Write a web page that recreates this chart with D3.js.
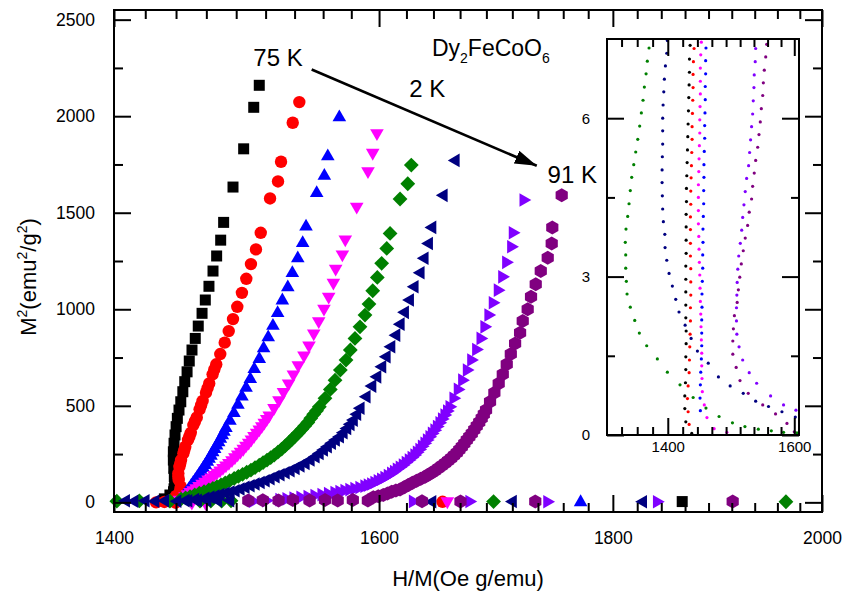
<!DOCTYPE html>
<html>
<head>
<meta charset="utf-8">
<script src="https://cdn.jsdelivr.net/npm/d3@7"></script>
<style>
  body { margin: 0; background: #fff; }
  svg text { font-family: "Liberation Sans", Arial, sans-serif; fill: #000; }
</style>
</head>
<body>
<svg id="chart" width="845" height="592"></svg>
<script>
// Tick labels
const xTicks = [1400, 1600, 1800, 2000];
const yTicks = [0, 500, 1000, 1500, 2000, 2500];
const insetXTicks = [1400, 1600];
const insetYTicks = [0, 3, 6];

// Main plot series: [H/M, M^2]
const sqBlack = [[1506.3,2160],[1502.1,2046],[1494.5,1831],[1486.5,1633],[1479.5,1450],[1477.3,1358],[1474.3,1276],[1471.6,1198],[1468.6,1119],[1465.9,1048],[1463.5,979],[1460.7,913],[1458.5,849],[1456.1,789],[1454.1,732],[1452.5,676],[1450.8,625],[1449.4,573],[1447.9,521],[1446.6,478],[1445.4,435],[1444.5,392],[1443.7,349],[1443.0,306],[1442.5,262],[1442.5,219],[1442.8,176],[1443.2,133],[1443.7,90],[1443.5,110],[1443.0,70],[1442.6,55],[1440,38],[1436,18],[1864,4]];
const circRed = [[1537.0,2073],[1531.9,1966],[1522.9,1764],[1520.6,1662],[1514.5,1574],[1507.4,1396],[1503.8,1310],[1500.0,1234],[1496.5,1158],[1493.2,1085],[1489.7,1013],[1486.5,949],[1483.3,887],[1480.3,827],[1477.0,768],[1474.0,715],[1472.6,689],[1471.3,663],[1468.8,616],[1467.6,592],[1466.4,568],[1463.9,525],[1462.8,503],[1461.7,482],[1459.6,440],[1458.3,420],[1457.1,400],[1455.2,360],[1454.2,341],[1453.2,323],[1451.2,288],[1450.5,271],[1449.8,254],[1448.1,219],[1447.5,201],[1446.9,184],[1446.1,150],[1446.1,133],[1446.4,116],[1447.9,81],[1447.8,70],[1447.4,58],[1444.5,33],[1441,12],[1436,2],[1430,0],[1444,-2],[1652,3]];
const triBlue = [[1568.3,1997],[1559.2,1795],[1556.5,1695],[1550.5,1605],[1542.2,1432],[1539.6,1346],[1535.8,1267],[1531.6,1191],[1528.1,1117],[1523.9,1049],[1520.3,984],[1516.7,918],[1513.1,858],[1509.6,801],[1506.3,746],[1502.5,694],[1499.5,642],[1496.3,596],[1493.2,551],[1490.2,508],[1487.2,466],[1484.2,426],[1481.2,388],[1479.8,369],[1478.5,350],[1477.1,332],[1475.8,314],[1474.3,297],[1472.8,280],[1471.4,262],[1470.1,245],[1468.7,229],[1467.4,214],[1465.9,197],[1464.4,181],[1463.0,165],[1461.5,150],[1460.0,134],[1458.5,119],[1457.0,104],[1455.6,90],[1454.1,75],[1452.7,60],[1451.5,49],[1450.3,38],[1448,15],[1771,4]];
const triDownMagenta = [[1598.3,1909],[1594.9,1807],[1591.1,1712],[1582.1,1528],[1573.0,1358],[1570.7,1281],[1565.4,1207],[1563.6,1134],[1559.9,1062],[1556.2,1000],[1552.1,935],[1548.2,872],[1544.5,809],[1540.6,758],[1536.2,707],[1532.4,659],[1528.7,613],[1524.8,568],[1521.3,526],[1517.5,485],[1513.9,447],[1512.0,428],[1510.1,409],[1508.2,391],[1506.3,374],[1504.3,357],[1502.3,340],[1500.3,323],[1498.3,306],[1496.2,290],[1494.2,274],[1492.1,259],[1490.0,245],[1487.9,230],[1485.7,215],[1483.4,201],[1481.2,188],[1479.0,175],[1476.8,162],[1474.5,150],[1472.3,138],[1470.1,126],[1467.9,115],[1465.7,104],[1463.5,93],[1461.3,81],[1459.1,70],[1456.9,60],[1454.7,50],[1452.8,39],[1451.0,29],[1447,10],[1456,-5],[1466,-6],[1656,2]];
const diaGreen = [[1626.2,1747],[1623.3,1650],[1617.0,1571],[1608.9,1393],[1606.2,1315],[1602.1,1238],[1598.6,1165],[1594.9,1096],[1591.9,1027],[1588.7,970],[1584.7,909],[1580.7,849],[1577.0,789],[1573.6,737],[1569.1,685],[1564.9,633],[1561.2,585],[1557.0,539],[1552.6,495],[1550.4,475],[1548.2,456],[1545.9,435],[1543.6,414],[1541.2,396],[1538.9,378],[1536.4,360],[1533.9,343],[1531.3,326],[1528.8,309],[1526.1,292],[1523.4,276],[1520.5,260],[1517.7,245],[1515.0,232],[1512.2,219],[1509.2,206],[1506.3,193],[1503.1,180],[1500.0,167],[1496.8,156],[1493.7,145],[1490.5,134],[1487.4,124],[1484.0,112],[1480.7,101],[1477.6,91],[1474.5,81],[1471.5,72],[1468.5,64],[1465.0,55],[1461.5,47],[1458.1,38],[1454.7,29],[1451.4,23],[1448.1,17],[1402,6],[1418,8],[1440,6],[1462,6],[1470,7],[1478,6],[1485,8],[1695,4],[1964,3]];
const triLeftNavy = [[1662.4,1771],[1652.4,1590],[1643.0,1424],[1640.2,1341],[1636.6,1264],[1633.3,1189],[1628.4,1117],[1624.6,1048],[1620.5,984],[1617.0,923],[1613.5,866],[1609.4,806],[1605.6,754],[1602.1,702],[1598.1,650],[1594.1,602],[1589.5,547],[1584.7,487],[1582.0,456],[1579.3,426],[1576.7,404],[1574.1,383],[1571.2,361],[1568.3,340],[1565.1,323],[1562.0,306],[1558.8,288],[1555.7,271],[1552.4,253],[1549.2,236],[1545.3,219],[1541.4,202],[1537.5,189],[1533.7,176],[1529.8,164],[1526.0,153],[1522.1,143],[1518.3,133],[1514.5,122],[1510.7,112],[1506.9,103],[1503.1,95],[1499.3,86],[1495.5,78],[1491.7,69],[1488.0,60],[1484.2,53],[1480.5,47],[1476.7,40],[1473.0,33],[1469.3,27],[1465.6,21],[1458,14],[1451,9],[1408,8],[1414,6],[1422,8],[1429,6],[1436,8],[1445,6],[1453,8],[1460,10],[1467,10],[1475,8],[1484,9],[1643,3],[1711,4],[1827,3]];
const triRightViolet = [[1721.3,1566],[1712.0,1396],[1710.6,1324],[1706.3,1243],[1702.9,1168],[1699.1,1099],[1694.8,1034],[1691.1,970],[1687.7,909],[1684.4,849],[1680.7,792],[1676.5,737],[1672.8,685],[1668.9,633],[1665.2,585],[1661.6,539],[1658.3,495],[1656.2,473],[1654.1,452],[1652.0,432],[1649.9,412],[1647.8,393],[1645.7,374],[1643.6,357],[1641.6,340],[1639.5,323],[1637.5,306],[1635.4,290],[1633.3,274],[1631.2,259],[1629.2,245],[1626.9,232],[1624.6,219],[1622.1,206],[1619.7,193],[1617.2,182],[1614.8,171],[1612.5,160],[1610.2,150],[1607.5,139],[1604.8,129],[1602.1,120],[1599.4,112],[1596.7,103],[1594.1,95],[1591.4,89],[1588.7,84],[1584.7,77],[1580.7,71],[1576.7,66],[1572.8,61],[1568.8,56],[1564.9,51],[1559.8,45],[1554.7,40],[1549.2,35],[1543.8,30],[1538.3,26],[1532.9,22],[1527.5,18],[1522.1,14],[1512,9],[1502,6],[1628,5],[1675,4],[1742,3],[1841,3]];
const hexPurple = [[1754.2,1591],[1745.9,1424],[1745.4,1341],[1741.9,1267],[1735.8,1198],[1731.4,1129],[1727.3,1065],[1724.4,1000],[1720.1,939],[1717.8,878],[1713.5,823],[1709.8,768],[1706.3,715],[1702.9,664],[1699.4,616],[1695.7,568],[1692.0,521],[1688.6,478],[1686.7,456],[1684.9,435],[1682.8,415],[1680.7,395],[1678.6,376],[1676.5,357],[1674.4,340],[1672.3,323],[1670.2,305],[1668.1,288],[1666.0,272],[1663.9,257],[1661.5,242],[1659.1,228],[1656.6,215],[1654.1,202],[1651.3,189],[1648.5,176],[1645.7,164],[1643.0,153],[1640.2,143],[1637.5,133],[1634.0,122],[1630.6,112],[1627.2,101],[1623.8,90],[1620.4,78],[1617.0,67],[1613.6,61],[1610.2,55],[1606.8,46],[1603.4,38],[1599.4,32],[1595.4,26],[1591,10],[1579,12],[1567,10],[1557,12],[1545,9],[1532,12],[1521,10],[1509,11],[1498,9],[1635,6],[1667,5],[1731,4],[1912,4]];

// Inset series (low M^2 region)
const insetGreen = [[1372.6,7.33],[1370.1,7.08],[1368.3,6.84],[1365.8,6.59],[1363.9,6.34],[1361.5,6.10],[1359.1,5.85],[1356.3,5.60],[1353.4,5.36],[1350.6,5.12],[1347.7,4.88],[1345.7,4.63],[1343.9,4.38],[1342.0,4.14],[1339.6,3.90],[1338.6,3.65],[1339.2,3.41],[1339.2,3.16],[1340.1,2.91],[1341.1,2.67],[1345.7,2.42],[1352.0,2.17],[1358.6,1.93],[1369.2,1.69],[1384.7,1.44],[1399.4,1.19],[1418.2,0.95],[1438.0,0.71],[1457.6,0.51],[1477.9,0.35],[1498.9,0.23],[1518.8,0.16],[1540.4,0.11],[1561.7,0.08],[1582.0,0.05],[1604.5,0.04]];
const insetNavy = [[1399.4,7.47],[1398.5,7.23],[1396.5,6.99],[1395.0,6.74],[1394.1,6.50],[1393.1,6.25],[1392.5,6.00],[1392.5,5.76],[1392.5,5.51],[1392.0,5.27],[1391.6,5.02],[1391.6,4.78],[1392.0,4.53],[1392.5,4.28],[1393.5,4.04],[1395.6,3.80],[1396.0,3.55],[1398.5,3.31],[1401.9,3.06],[1406.8,2.82],[1411.8,2.57],[1416.7,2.33],[1425.9,2.08],[1434.9,1.83],[1444.5,1.59],[1461.1,1.36],[1476.9,1.10],[1495.3,0.93],[1516.1,0.79],[1536.1,0.64],[1557.1,0.54],[1579.3,0.44],[1601.7,0.34]];
const insetBlack = [[1433.4,7.38],[1432.4,7.12],[1432.4,6.87],[1431.9,6.63],[1431.4,6.39],[1430.9,6.14],[1430.4,5.89],[1429.9,5.65],[1429.4,5.40],[1428.9,5.16],[1428.4,4.91],[1427.9,4.67],[1427.9,4.42],[1427.4,4.18],[1427.4,3.94],[1427.4,3.69],[1427.4,3.44],[1426.9,3.20],[1426.9,2.95],[1426.9,2.71],[1426.9,2.46],[1426.9,2.22],[1427.4,1.97],[1427.4,1.73],[1426.9,1.48],[1426.9,1.24],[1426.4,0.99],[1425.4,0.74],[1425.4,0.50],[1426.9,0.25],[1435.9,0.03]];
const insetRed = [[1439.4,7.32],[1438.4,7.07],[1437.9,6.83],[1437.9,6.58],[1437.4,6.34],[1436.9,6.09],[1436.4,5.84],[1436.4,5.60],[1435.9,5.35],[1435.4,5.10],[1434.9,4.87],[1434.4,4.62],[1434.4,4.37],[1433.9,4.13],[1433.9,3.89],[1433.9,3.63],[1433.9,3.39],[1434.4,3.15],[1434.4,2.90],[1434.4,2.65],[1433.9,2.41],[1433.9,2.16],[1433.4,1.91],[1432.9,1.67],[1432.4,1.42],[1431.9,1.18],[1430.4,0.93],[1429.4,0.69],[1430.4,0.44],[1431.9,0.20]];
const insetMagenta = [[1450.5,7.44],[1449.6,7.20],[1449.0,6.95],[1449.0,6.70],[1449.0,6.46],[1448.5,6.22],[1448.1,5.97],[1448.1,5.72],[1447.5,5.48],[1447.0,5.23],[1446.6,4.99],[1446.0,4.74],[1446.0,4.50],[1446.0,4.25],[1446.0,4.00],[1446.6,3.76],[1447.0,3.52],[1447.5,3.27],[1448.1,3.03],[1448.5,2.78],[1449.0,2.53],[1449.6,2.29],[1450.0,2.05],[1450.5,1.80],[1451.1,1.55],[1451.1,1.31],[1451.5,1.07],[1452.0,0.82],[1455.0,0.57],[1459.1,0.33],[1470.2,0.12],[1490.1,0.05]];
const insetBlue = [[1457.6,7.33],[1457.1,7.09],[1457.1,6.84],[1456.5,6.60],[1456.5,6.35],[1456.1,6.10],[1455.6,5.86],[1455.6,5.62],[1455.0,5.37],[1454.5,5.12],[1454.5,4.88],[1454.1,4.63],[1454.1,4.38],[1453.5,4.14],[1453.0,3.90],[1453.0,3.65],[1452.6,3.41],[1452.6,3.16],[1452.0,2.91],[1451.5,2.67],[1451.5,2.42],[1451.1,2.18],[1451.1,1.93],[1451.1,1.69],[1450.5,1.44],[1449.6,1.19],[1449.0,0.95],[1448.5,0.70],[1449.0,0.46]];
const insetViolet = [[1536.1,7.32],[1535.4,7.07],[1533.8,6.82],[1533.3,6.58],[1532.2,6.33],[1531.2,6.08],[1529.5,5.84],[1527.9,5.59],[1526.3,5.35],[1524.7,5.10],[1521.5,4.86],[1519.3,4.61],[1517.2,4.36],[1515.2,4.12],[1513.6,3.88],[1511.4,3.63],[1508.9,3.39],[1507.4,3.14],[1506.4,2.89],[1505.9,2.65],[1505.3,2.41],[1505.3,2.16],[1505.9,1.91],[1509.4,1.67],[1515.2,1.42],[1525.7,1.18],[1537.7,0.98],[1560.5,0.74],[1582.0,0.57],[1602.8,0.47]];
const insetPurple = [[1554.1,7.40],[1552.5,7.16],[1550.2,6.91],[1548.6,6.67],[1547.6,6.43],[1545.3,6.18],[1543.6,5.93],[1541.5,5.69],[1539.4,5.45],[1536.1,5.20],[1533.8,4.96],[1531.2,4.71],[1529.5,4.47],[1525.7,4.22],[1523.1,3.97],[1519.3,3.73],[1516.1,3.49],[1513.0,3.24],[1510.5,2.99],[1508.3,2.75],[1506.4,2.51],[1502.0,2.26],[1500.4,2.01],[1499.5,1.78],[1499.5,1.53],[1504.8,1.28],[1510.9,1.03],[1524.1,0.79],[1547.6,0.57],[1568.7,0.40],[1587.7,0.22],[1600.0,0.06]];

const series = [
    { data: sqBlack, inset: insetBlack, color: '#000000', shape: 'square' },
    { data: circRed, inset: insetRed, color: '#ff0000', shape: 'circle' },
    { data: triBlue, inset: insetBlue, color: '#0000ff', shape: 'up' },
    { data: triDownMagenta, inset: insetMagenta, color: '#ff00ff', shape: 'down' },
    { data: diaGreen, inset: insetGreen, color: '#008000', shape: 'diamond' },
    { data: triLeftNavy, inset: insetNavy, color: '#000080', shape: 'left' },
    { data: triRightViolet, inset: insetViolet, color: '#8000ff', shape: 'right' },
    { data: hexPurple, inset: insetPurple, color: '#800080', shape: 'hexagon' }
];

// Symbol outlines, centred on 0,0
function symbolPath(type) {
    switch (type) {
        case 'square': return 'M-5.5,-5.5H5.5V5.5H-5.5Z';
        case 'circle': return d3.symbol(d3.symbolCircle, Math.PI * 6.2 * 6.2)();
        case 'up': return 'M0,-7.2L6.8,4.6L-6.8,4.6Z';
        case 'down': return 'M0,7.2L6.8,-4.6L-6.8,-4.6Z';
        case 'left': return 'M-7.2,0L4.6,-6.8L4.6,6.8Z';
        case 'right': return 'M7.2,0L-4.6,-6.8L-4.6,6.8Z';
        case 'diamond': return 'M0,-7.4L7.4,0L0,7.4L-7.4,0Z';
        case 'hexagon': return 'M0,-7L6.1,-3.5L6.1,3.5L0,7L-6.1,3.5L-6.1,-3.5Z';
    }
}

// Minor ticks split each major interval into n parts
function minorBetween(majors, n) {
    const out = [];
    for (let i = 0; i < majors.length - 1; i++) {
        for (let k = 1; k < n; k++) out.push(majors[i] + (majors[i + 1] - majors[i]) * k / n);
    }
    return out;
}

const svg = d3.select('#chart');
svg.append('rect').attr('width', 845).attr('height', 592).attr('fill', '#fff');

// Main plot scales (x axis is logarithmic)
const x = d3.scaleLog().domain([1400, 2000]).range([114, 822]);
const y = d3.scaleLinear().domain([-50, 2550]).range([512, 10]);

function drawAxis(g, axis, fontSize) {
    g.call(axis);
    g.select('.domain').remove();
    g.selectAll('line').attr('stroke', '#000').attr('stroke-width', 2);
    g.selectAll('text')
        .attr('font-family', '"Liberation Sans", Arial, sans-serif')
        .attr('font-size', fontSize)
        .attr('fill', '#000');
    g.attr('font-family', null).attr('font-size', null);
}

const xMinor = minorBetween(xTicks, 9);
const yMinor = minorBetween(yTicks, 2);
const fmt = d3.format('d');

// Markers
series.forEach(s => {
    svg.append('g')
        .selectAll('path')
        .data(s.data)
        .enter()
        .append('path')
        .attr('d', symbolPath(s.shape))
        .attr('transform', d => `translate(${x(d[0])},${y(d[1])})`)
        .attr('fill', s.color);
});

// Axes, ticks pointing inward
const axes = svg.append('g');
drawAxis(axes.append('g').attr('transform', 'translate(0,512)'),
    d3.axisBottom(x).tickValues(xTicks).tickSize(-17).tickPadding(20).tickFormat(fmt), 17.5);
drawAxis(axes.append('g').attr('transform', 'translate(0,512)'),
    d3.axisBottom(x).tickValues(xMinor).tickSize(-9).tickFormat(''), 17);
drawAxis(axes.append('g').attr('transform', 'translate(0,10)'),
    d3.axisTop(x).tickValues(xTicks).tickSize(-17).tickFormat(''), 17);
drawAxis(axes.append('g').attr('transform', 'translate(0,10)'),
    d3.axisTop(x).tickValues(xMinor).tickSize(-9).tickFormat(''), 17);
drawAxis(axes.append('g').attr('transform', 'translate(114,0)'),
    d3.axisLeft(y).tickValues(yTicks).tickSize(-17).tickPadding(19).tickFormat(fmt), 17.5);
drawAxis(axes.append('g').attr('transform', 'translate(114,0)'),
    d3.axisLeft(y).tickValues(yMinor).tickSize(-9).tickFormat(''), 17);
drawAxis(axes.append('g').attr('transform', 'translate(822,0)'),
    d3.axisRight(y).tickValues(yTicks).tickSize(-17).tickFormat(''), 17);
drawAxis(axes.append('g').attr('transform', 'translate(822,0)'),
    d3.axisRight(y).tickValues(yMinor).tickSize(-9).tickFormat(''), 17);

svg.append('rect')
    .attr('x', 114).attr('y', 10).attr('width', 708).attr('height', 502)
    .attr('fill', 'none').attr('stroke', '#000').attr('stroke-width', 2);

// Axis titles
svg.append('text')
    .attr('x', 468).attr('y', 586)
    .attr('text-anchor', 'middle')
    .attr('font-size', 22)
    .text('H/M(Oe g/emu)');

const yTitle = svg.append('text')
    .attr('transform', 'translate(36,277) rotate(-90)')
    .attr('text-anchor', 'middle')
    .attr('font-size', 22);
[['M', 0], ['2', 1], ['(emu', 0], ['2', 1], ['/g', 0], ['2', 1], [')', 0]].forEach(([t, sup], i, arr) => {
    const prevSup = i > 0 ? arr[i - 1][1] : 0;
    yTitle.append('tspan')
        .attr('dy', sup ? -9 : (prevSup ? 9 : 0))
        .attr('font-size', sup ? 14 : 22)
        .text(t);
});

// Annotations
svg.append('text').attr('x', x(1501.8)).attr('y', y(2261)).attr('font-size', 24).text('75 K');
svg.append('text').attr('x', x(1624.6)).attr('y', y(2097)).attr('font-size', 24).text('2 K');
svg.append('text').attr('x', x(1741.8)).attr('y', y(1655)).attr('font-size', 24).text('91 K');

const formula = svg.append('text').attr('x', x(1643.2)).attr('y', y(2311)).attr('font-size', 23);
formula.append('tspan').text('Dy');
formula.append('tspan').attr('dy', 7).attr('font-size', 14).text('2');
formula.append('tspan').attr('dy', -7).text('FeCoO');
formula.append('tspan').attr('dy', 7).attr('font-size', 14).text('6');

svg.append('defs').append('marker')
    .attr('id', 'arrowHead')
    .attr('markerUnits', 'userSpaceOnUse')
    .attr('viewBox', '0 0 22 14')
    .attr('markerWidth', 22).attr('markerHeight', 14)
    .attr('refX', 22).attr('refY', 7)
    .attr('orient', 'auto')
    .append('path').attr('d', 'M0,0L22,7L0,14Z').attr('fill', '#000');

svg.append('line')
    .attr('x1', x(1546.6)).attr('y1', y(2242))
    .attr('x2', x(1732.3)).attr('y2', y(1743))
    .attr('stroke', '#000').attr('stroke-width', 2.6)
    .attr('marker-end', 'url(#arrowHead)');

// Inset
const xi = d3.scaleLog().domain([1313, 1608]).range([607, 799]);
const yi = d3.scaleLinear().domain([0, 7.5]).range([435, 39]);
const inset = svg.append('g');

inset.append('rect')
    .attr('x', 607).attr('y', 39).attr('width', 192).attr('height', 396)
    .attr('fill', '#fff');

series.forEach(s => {
    inset.append('g')
        .selectAll('circle')
        .data(s.inset)
        .enter()
        .append('circle')
        .attr('cx', d => xi(d[0]))
        .attr('cy', d => yi(d[1]))
        .attr('r', 1.6)
        .attr('fill', s.color);
});

const xiMinor = minorBetween([1200, 1400, 1600, 1800], 9).filter(v => v > 1313 && v < 1608);
const yiMinor = minorBetween([0, 3, 6, 9], 2).filter(v => v < 7.5);

drawAxis(inset.append('g').attr('transform', 'translate(0,435)'),
    d3.axisBottom(xi).tickValues(insetXTicks).tickSize(-17).tickPadding(6).tickFormat(fmt), 15);
drawAxis(inset.append('g').attr('transform', 'translate(0,435)'),
    d3.axisBottom(xi).tickValues(xiMinor).tickSize(-8).tickFormat(''), 15);
drawAxis(inset.append('g').attr('transform', 'translate(0,39)'),
    d3.axisTop(xi).tickValues(insetXTicks).tickSize(-17).tickFormat(''), 15);
drawAxis(inset.append('g').attr('transform', 'translate(0,39)'),
    d3.axisTop(xi).tickValues(xiMinor).tickSize(-8).tickFormat(''), 15);
drawAxis(inset.append('g').attr('transform', 'translate(607,0)'),
    d3.axisLeft(yi).tickValues(insetYTicks).tickSize(-17).tickPadding(17), 15);
drawAxis(inset.append('g').attr('transform', 'translate(607,0)'),
    d3.axisLeft(yi).tickValues(yiMinor).tickSize(-8).tickFormat(''), 15);
drawAxis(inset.append('g').attr('transform', 'translate(799,0)'),
    d3.axisRight(yi).tickValues(insetYTicks).tickSize(-17).tickFormat(''), 15);
drawAxis(inset.append('g').attr('transform', 'translate(799,0)'),
    d3.axisRight(yi).tickValues(yiMinor).tickSize(-8).tickFormat(''), 15);

inset.append('rect')
    .attr('x', 607).attr('y', 39).attr('width', 192).attr('height', 396)
    .attr('fill', 'none').attr('stroke', '#000').attr('stroke-width', 2);
</script>
</body>
</html>
